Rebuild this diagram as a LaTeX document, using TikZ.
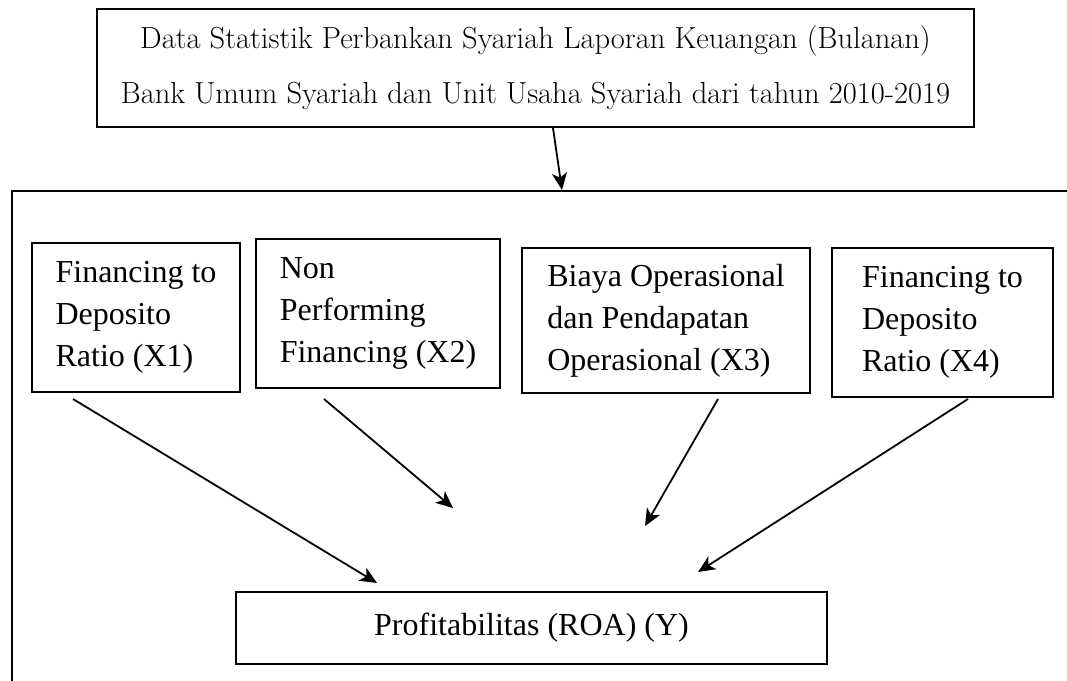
\documentclass[tikz,border=0pt]{standalone}
\usepackage{fontspec}
\newfontfamily\tnr{Liberation Serif}
\usetikzlibrary{arrows.meta}
\tikzset{
  frame/.style={line width=2.6pt},
  varbox/.style={draw, line width=2.6pt, align=left, inner sep=0pt,
    font=\tnr\fontsize{32}{42}\selectfont},
  topbox/.style={draw, line width=2.6pt, align=center, inner sep=0pt,
    font=\fontsize{30.5}{55}\selectfont},
  ybox/.style={draw, line width=2.6pt, inner sep=0pt,
    font=\tnr\fontsize{32}{42}\selectfont},
  conn/.style={line width=1.8pt, -{Stealth[length=17pt,width=15pt,inset=4.5pt]}}
}
\begin{document}
\begin{tikzpicture}[x=1pt,y=-1pt]
\useasboundingbox (0,0) rectangle (1067,680);
% outer frame (extends beyond the page)
\draw[frame] (12,690) -- (12,191) -- (1080,191);
% top data box
\node[topbox, minimum width=877pt, minimum height=118pt] (top) at (535.5,68)
  {Data Statistik Perbankan Syariah Laporan Keuangan (Bulanan)\\
   Bank Umum Syariah dan Unit Usaha Syariah dari tahun 2010-2019};
% variable boxes
\node[varbox, minimum width=208pt, minimum height=149pt] (x1) at (136,317.5)
  {Financing to\\Deposito\\Ratio (X1)};
\node[varbox, minimum width=244pt, minimum height=149pt] (x2) at (378,313.5)
  {Non\\Performing\\Financing (X2)};
\node[varbox, minimum width=288pt, minimum height=145pt] (x3) at (666,320.5)
  {Biaya Operasional\\dan Pendapatan\\Operasional (X3)};
\node[varbox, minimum width=221pt, minimum height=149pt] (x4) at (942.5,322.5)
  {Financing to\\Deposito\\Ratio (X4)};
% result box
\node[ybox, minimum width=591pt, minimum height=72pt] (y) at (531.5,628)
  {Profitabilitas (ROA) (Y)};
% connector end points
\coordinate (s0) at (553,128);
\coordinate (e0) at (562,190);
\coordinate (s1) at (73,399);
\coordinate (e1) at (377,583);
\coordinate (s2) at (324,399);
\coordinate (e2) at (453,508);
\coordinate (s3) at (718,399);
\coordinate (e3) at (645,526);
\coordinate (s4) at (968,399);
\coordinate (e4) at (698,572);
\draw[conn] (s0) -- (e0);
\draw[conn] (s1) -- (e1);
\draw[conn] (s2) -- (e2);
\draw[conn] (s3) -- (e3);
\draw[conn] (s4) -- (e4);
\end{tikzpicture}
\end{document}
